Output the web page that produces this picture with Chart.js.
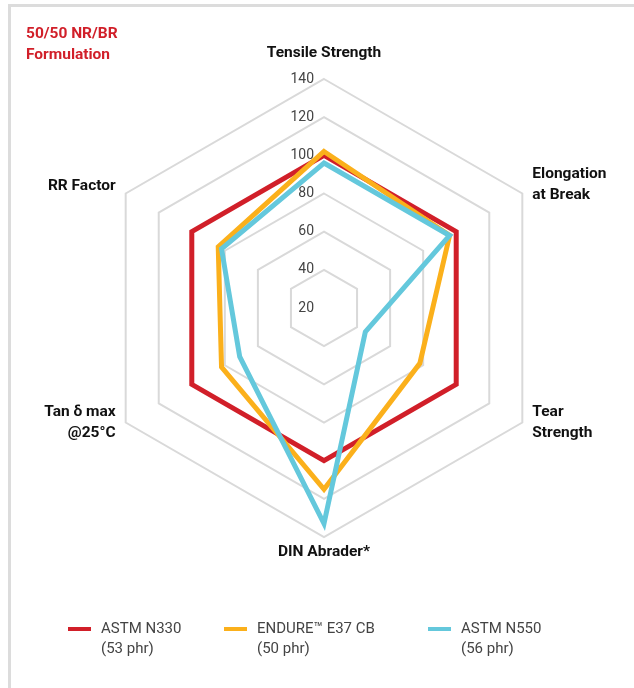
<!DOCTYPE html>
<html>
<head>
<meta charset="utf-8">
<script src="https://cdn.jsdelivr.net/npm/chart.js@4"></script>
<style>
  html, body { margin: 0; padding: 0; background: #fff; }
  #wrap { position: relative; width: 634px; height: 688px; overflow: hidden; }
  #frame { position: absolute; left: 8px; top: 4px; width: 700px; height: 760px; border-left: 3px solid #dcdcdc; border-top: 3px solid #dcdcdc; }
  #title { position: absolute; left: 26px; top: 23px; font: bold 15.5px "Roboto", "Liberation Sans", sans-serif; color: #d11f29; line-height: 20.5px; }
  .leg { position: absolute; top: 618px; font: 15px "Roboto", "Liberation Sans", sans-serif; color: #444; line-height: 20px; }
  .sw { position: absolute; top: 9px; width: 23px; height: 4px; }
  .leg span.t { position: absolute; white-space: nowrap; }
  canvas { position: absolute; left: 0; top: 0; }
</style>
</head>
<body>
<div id="wrap">
  <div id="frame"></div>
  <canvas id="chartRadar" width="634" height="688"></canvas>
  <div id="title">50/50 NR/BR<br>Formulation</div>
  <div id="legend"></div>
</div>
<script>
const categories = [
  ['Tensile Strength'],
  ['Elongation', 'at Break'],
  ['Tear', 'Strength'],
  ['DIN Abrader*'],
  ['Tan δ max', '@25°C'],
  ['RR Factor']
]
const seriesNames = [['ASTM N330', '(53 phr)'], ['ENDURE™ E37 CB', '(50 phr)'], ['ASTM N550', '(56 phr)']]
const n330 = [100, 100, 100, 100, 100, 100]
const e37 = [102, 96, 78, 115, 82, 84]
const n550 = [96, 96, 45, 133, 71, 82]
const tickMin = 20
const tickMax = 140
const tickStep = 20

const colors = ['#d11f29', '#fbb01b', '#64c8dc']
const seriesData = [n330, e37, n550]

// label placement around each outer vertex: align, dx, dy of first line
const labelPlace = [
  ['center', 0, -26],
  ['left', 10, -19.5],
  ['left', 10, -10.5],
  ['center', 0, 15],
  ['right', -10, -10.5],
  ['right', -10, -7.5]
]

const textPlugin = {
  id: 'textPlugin',
  beforeDatasetsDraw(chart) {
    const scale = chart.scales.r
    const ctx = chart.ctx
    ctx.save()
    ctx.font = '14px "Roboto", "Liberation Sans", sans-serif'
    ctx.fillStyle = '#444'
    ctx.textAlign = 'right'
    ctx.textBaseline = 'middle'
    scale.ticks.forEach(t => {
      const p = scale.getPointPositionForValue(0, t.value)
      ctx.fillText(t.label, p.x - 10, p.y)
    })
    ctx.restore()
  },
  afterDraw(chart) {
    const scale = chart.scales.r
    const ctx = chart.ctx
    ctx.save()
    ctx.font = 'bold 15.5px "Roboto", "Liberation Sans", sans-serif'
    ctx.fillStyle = '#111'
    ctx.textBaseline = 'middle'
    for (var i = 0; i < categories.length; i++) {
      const p = scale.getPointPositionForValue(i, tickMax)
      const pl = labelPlace[i]
      ctx.textAlign = pl[0]
      categories[i].forEach((line, j) => {
        ctx.fillText(line, p.x + pl[1], p.y + pl[2] + j * 21)
      })
    }
    ctx.restore()
  }
}

new Chart(document.getElementById('chartRadar'), {
  type: 'radar',
  data: {
    labels: categories.map(c => c.join(' ')),
    datasets: seriesData.map((d, i) => ({
      label: seriesNames[i].join(' '),
      data: d,
      borderColor: colors[i],
      backgroundColor: 'transparent',
      borderWidth: 5,
      borderJoinStyle: 'miter',
      pointRadius: 0,
      fill: false,
      order: 2 - i
    }))
  },
  options: {
    responsive: false,
    animation: false,
    layout: { padding: { left: 95, right: 81, top: 79, bottom: 151 } },
    plugins: { legend: { display: false }, tooltip: { enabled: false } },
    scales: {
      r: {
        min: tickMin,
        max: tickMax,
        ticks: { stepSize: tickStep, display: false },
        grid: { color: '#d9d9d9', lineWidth: 2 },
        angleLines: { display: false },
        pointLabels: { display: false }
      }
    }
  },
  plugins: [textPlugin]
})

const legend = document.getElementById('legend')
const legX = [68, 224, 428]
seriesNames.forEach((nm, i) => {
  const d = document.createElement('div')
  d.className = 'leg'
  d.style.left = legX[i] + 'px'
  d.innerHTML = '<div class="sw" style="background:' + colors[i] + '"></div>' +
    '<span class="t" style="left:33px">' + nm[0] + '<br>' + nm[1] + '</span>'
  legend.appendChild(d)
})
</script>
</body>
</html>
